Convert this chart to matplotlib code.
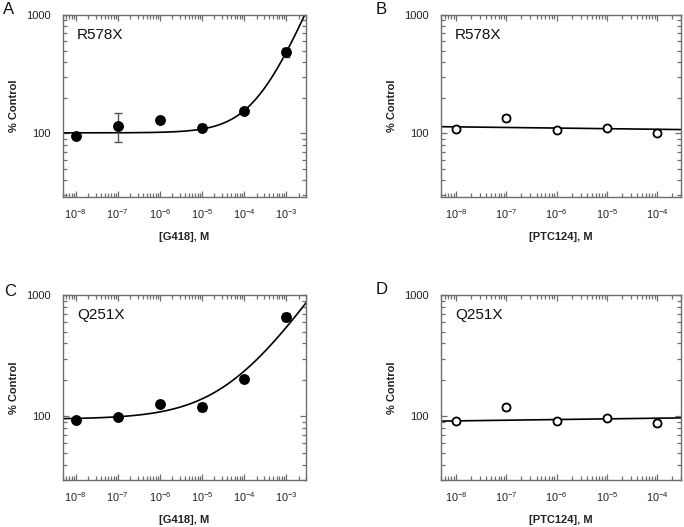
import numpy as np
import matplotlib
matplotlib.use("Agg")
import matplotlib.pyplot as plt
from matplotlib.ticker import LogLocator, FixedLocator, NullFormatter

plt.rcParams['font.family'] = ['Liberation Sans', 'DejaVu Sans']
plt.rcParams['mathtext.fontset'] = 'custom'
plt.rcParams['mathtext.rm'] = 'Liberation Sans'
plt.rcParams['mathtext.it'] = 'Liberation Sans:italic'
plt.rcParams['mathtext.bf'] = 'Liberation Sans:bold'

# ---------------- data ----------------
g418_conc = [1e-8, 1e-7, 1e-6, 1e-5, 1e-4, 1e-3]
ptc_conc = [1e-8, 1e-7, 1e-6, 1e-5, 1e-4]

a_vals = [95, 116, 130, 112, 156, 484]
a_err = [3, 32, 6, 7, 5, 45]
c_vals = [93, 99, 127, 119, 203, 660]
c_err = [3, 3, 4, 9, 12, 45]

b_vals = [108, 134, 106, 112, 101]
b_err = [4, 8, 4, 3, 5]
d_vals = [91, 119, 92, 97, 88]
d_err = [3, 6, 3, 3, 5]

# fitted curves: G418 -> base + amp*(x/1e-4)^n ; PTC124 -> y0 + slope*(log10 x + 8)
a_fit = dict(base=101, amp=54, n=0.845)
c_fit = dict(base=95, amp=140, n=0.5)
b_fit = dict(y0=113.5, slope=-1.3)
d_fit = dict(y0=92.0, slope=1.2)

g418_ticks = [1e-8, 1e-7, 1e-6, 1e-5, 1e-4, 1e-3]
g418_ticklabels = ['10$^{-8}$', '10$^{-7}$', '10$^{-6}$', '10$^{-5}$', '10$^{-4}$', '10$^{-3}$']
ptc_ticks = [1e-8, 1e-7, 1e-6, 1e-5, 1e-4]
ptc_ticklabels = ['10$^{-8}$', '10$^{-7}$', '10$^{-6}$', '10$^{-5}$', '10$^{-4}$']
y_ticks = [100, 1000]
y_ticklabels = ['100', '1000']

# ---------------- figure ----------------
W, H = 684, 527
fig = plt.figure(figsize=(W / 100, H / 100), dpi=100)

def px_axes(l, t, r, b):
    return fig.add_axes([l / W, 1 - b / H, (r - l) / W, (b - t) / H])

frame = '#6e6e6e'

def style(ax, xlim, ylim, xticks, xlabels, xlabel):
    ax.set_xscale('log')
    ax.set_yscale('log')
    ax.set_xlim(*xlim)
    ax.set_ylim(*ylim)
    ax.xaxis.set_major_locator(FixedLocator(xticks))
    ax.xaxis.set_minor_locator(LogLocator(base=10, subs=np.arange(2, 10), numticks=20))
    ax.xaxis.set_minor_formatter(NullFormatter())
    ax.set_xticklabels(xlabels)
    ax.yaxis.set_major_locator(FixedLocator(y_ticks))
    ax.yaxis.set_minor_locator(LogLocator(base=10, subs=np.arange(2, 10), numticks=20))
    ax.yaxis.set_minor_formatter(NullFormatter())
    ax.set_yticklabels(y_ticklabels)
    for s in ax.spines.values():
        s.set_color(frame)
        s.set_linewidth(1.0)
    ax.tick_params(which='both', direction='in', top=True, right=True,
                   color=frame, width=0.9, labelcolor='#222222')
    ax.tick_params(axis='y', labelsize=8)
    ax.tick_params(axis='x', labelsize=7.8)
    ax.tick_params(which='major', length=4.5)
    ax.tick_params(which='minor', length=2.8)
    ax.tick_params(axis='x', which='major', pad=7)
    ax.tick_params(axis='y', which='major', pad=9)
    ax.set_xlabel(xlabel, fontsize=8, fontweight='bold', labelpad=8, color='#222222')
    ax.set_ylabel('% Control', fontsize=8, fontweight='bold', labelpad=5, color='#222222')

def g418_curve(x, p):
    return p['base'] + p['amp'] * (x / 1e-4) ** p['n']

def ptc_curve(x, p):
    return p['y0'] + p['slope'] * (np.log10(x) + 8)

panels = [
    ((63, 15, 306, 197), 'A', (3, 10), 'R578X', g418_conc, a_vals, a_err, a_fit, g418_curve, True,
     (5e-9, 3e-3), g418_ticks, g418_ticklabels, '[G418], M', (29, 1000)),
    ((441, 15, 681, 197), 'B', (376, 10), 'R578X', ptc_conc, b_vals, b_err, b_fit, ptc_curve, False,
     (5e-9, 3e-4), ptc_ticks, ptc_ticklabels, '[PTC124], M', (29, 1000)),
    ((63, 295, 306, 480), 'C', (4, 291), 'Q251X', g418_conc, c_vals, c_err, c_fit, g418_curve, True,
     (5e-9, 3e-3), g418_ticks, g418_ticklabels, '[G418], M', (30, 1000)),
    ((441, 295, 681, 480), 'D', (376, 290), 'Q251X', ptc_conc, d_vals, d_err, d_fit, ptc_curve, False,
     (5e-9, 3e-4), ptc_ticks, ptc_ticklabels, '[PTC124], M', (30, 1000)),
]

for (bbox, letter, lpos, label, xs, ys, es, fit, func, filled, xlim, xt, xtl, xlab, ylim) in panels:
    ax = px_axes(*bbox)
    style(ax, xlim, ylim, xt, xtl, xlab)
    xx = np.logspace(np.log10(xlim[0]), np.log10(xlim[1]), 300)
    ax.plot(xx, func(xx, fit), color='black', lw=1.2, zorder=2)
    ax.errorbar(xs, ys, yerr=es, fmt='none', ecolor='#555555', elinewidth=1.0,
                capsize=3.2, capthick=1.0, zorder=3)
    if filled:
        ax.plot(xs, ys, 'o', ms=6.8, mfc='black', mec='black', zorder=4)
    else:
        ax.plot(xs, ys, 'o', ms=5.8, mfc='white', mec='black', mew=1.3, zorder=4)
    ax.text(0.058, 0.89, label, transform=ax.transAxes, fontsize=11,
            ha='left', va='center', color='#111111')
    fig.text(lpos[0] / W, 1 - lpos[1] / H, letter, fontsize=12, ha='left',
             va='center', color='#111111')

fig.savefig('out.png', dpi=100)
